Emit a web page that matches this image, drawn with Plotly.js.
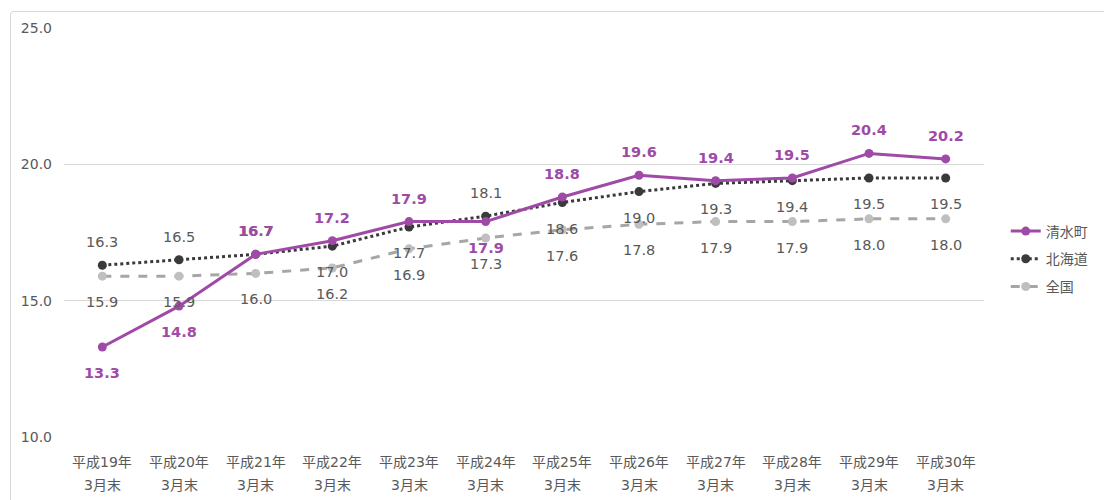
<!DOCTYPE html>
<html>
<head>
<meta charset="utf-8">
<script src="https://cdn.plot.ly/plotly-3.0.1.min.js"></script>
<style>
  html, body { margin: 0; padding: 0; background: #fff; overflow: hidden; }
  #frame { position: absolute; left: 10px; top: 11px; width: 1200px; height: 600px;
           border-left: 1px solid #d9d9d9; border-top: 1px solid #d9d9d9; border-radius: 4px 0 0 0; }
  #chart { position: absolute; left: 0; top: 0; width: 1104px; height: 500px; }
</style>
</head>
<body>
<div id="frame"></div>
<div id="chart"></div>
<script>
// Fiscal year-end periods (end of March)
const categories = [
  '平成19年<br>3月末', '平成20年<br>3月末', '平成21年<br>3月末', '平成22年<br>3月末',
  '平成23年<br>3月末', '平成24年<br>3月末', '平成25年<br>3月末', '平成26年<br>3月末',
  '平成27年<br>3月末', '平成28年<br>3月末', '平成29年<br>3月末', '平成30年<br>3月末'
];
const seriesNames = ['清水町', '北海道', '全国'];
const shimizu   = [13.3, 14.8, 16.7, 17.2, 17.9, 17.9, 18.8, 19.6, 19.4, 19.5, 20.4, 20.2];
const hokkaido  = [16.3, 16.5, 16.7, 17.0, 17.7, 18.1, 18.6, 19.0, 19.3, 19.4, 19.5, 19.5];
const zenkoku   = [15.9, 15.9, 16.0, 16.2, 16.9, 17.3, 17.6, 17.8, 17.9, 17.9, 18.0, 18.0];
// Which side of the point each data label sits on (1 = above, -1 = below)
const shimizuSide  = [-1, -1, 1, 1, 1, -1, 1, 1, 1, 1, 1, 1];
const hokkaidoSide = [1, 1, 1, -1, -1, 1, -1, -1, -1, -1, -1, -1];
const zenkokuSide  = [-1, -1, -1, -1, -1, -1, -1, -1, -1, -1, -1, -1];

const PURPLE = '#a04aa7';
const DARK = '#3a3a3a';
const GRAY = '#a6a6a6';
const TEXT = '#595959';
const FONT = 'Verdana, "DejaVu Sans", "Noto Sans CJK JP", sans-serif';

const traces = [
  { name: seriesNames[0], legendgroup: 'a', legendrank: 1, x: categories, y: shimizu,
    type: 'scatter', mode: 'lines+markers',
    line: { color: PURPLE, width: 3 }, marker: { color: PURPLE, size: 9 } },
  { name: seriesNames[1], legendgroup: 'b', legendrank: 2, x: categories, y: hokkaido,
    type: 'scatter', mode: 'lines+markers',
    line: { color: DARK, width: 3, dash: 'dot' }, marker: { color: DARK, size: 9 } },
  { name: seriesNames[2], legendgroup: 'c', legendrank: 3, x: categories, y: zenkoku,
    type: 'scatter', mode: 'lines+markers',
    line: { color: GRAY, width: 3, dash: 'dash' }, marker: { color: '#bfbfbf', size: 9 } }
];
// draw 清水町 last so it stays on top
const ordered = [traces[2], traces[1], traces[0]];

function labels(values, sides, color, bold) {
  return values.map((v, i) => ({
    x: categories[i], y: v, xref: 'x', yref: 'y',
    text: bold ? '<b>' + v.toFixed(1) + '</b>' : v.toFixed(1),
    showarrow: false, yshift: sides[i] > 0 ? 23 : -26,
    font: { family: FONT, size: 14.5, color: color }
  }));
}

// Two-line category labels under the axis, with wider line spacing
const tickLabels = [];
categories.forEach(c => {
  c.split('<br>').forEach((line, k) => {
    tickLabels.push({
      x: c, y: 0, xref: 'x', yref: 'paper', yanchor: 'middle',
      text: line, showarrow: false, yshift: -25 - k * 23,
      font: { family: FONT, size: 14, color: TEXT }
    });
  });
});

const annotations = tickLabels
  .concat(labels(zenkoku, zenkokuSide, TEXT, false))
  .concat(labels(hokkaido, hokkaidoSide, TEXT, false))
  .concat(labels(shimizu, shimizuSide, PURPLE, true));

const layout = {
  width: 1104, height: 500,
  margin: { l: 64, r: 120, t: 28, b: 63, autoexpand: false },
  paper_bgcolor: 'rgba(0,0,0,0)', plot_bgcolor: 'rgba(0,0,0,0)',
  font: { family: FONT, size: 14, color: TEXT },
  showlegend: true,
  legend: { xref: 'container', yref: 'container', x: 0.911, y: 0.482,
            xanchor: 'left', yanchor: 'middle', traceorder: 'grouped',
            font: { family: FONT, size: 14, color: TEXT }, tracegroupgap: 6.5 },
  xaxis: { type: 'category', range: [-0.5, 11.5], showgrid: false, zeroline: false,
           showline: false, ticks: '', showticklabels: false },
  yaxis: { range: [10, 25], dtick: 5, tick0: 10, tickformat: '.1f', showgrid: true,
           gridcolor: '#d9d9d9', gridwidth: 1, zeroline: false, showline: false, ticks: '',
           ticklabelstandoff: 11, tickfont: { family: FONT, size: 14, color: TEXT } },
  annotations: annotations
};

Plotly.newPlot('chart', ordered, layout, { displayModeBar: false, staticPlot: true });
</script>
</body>
</html>
